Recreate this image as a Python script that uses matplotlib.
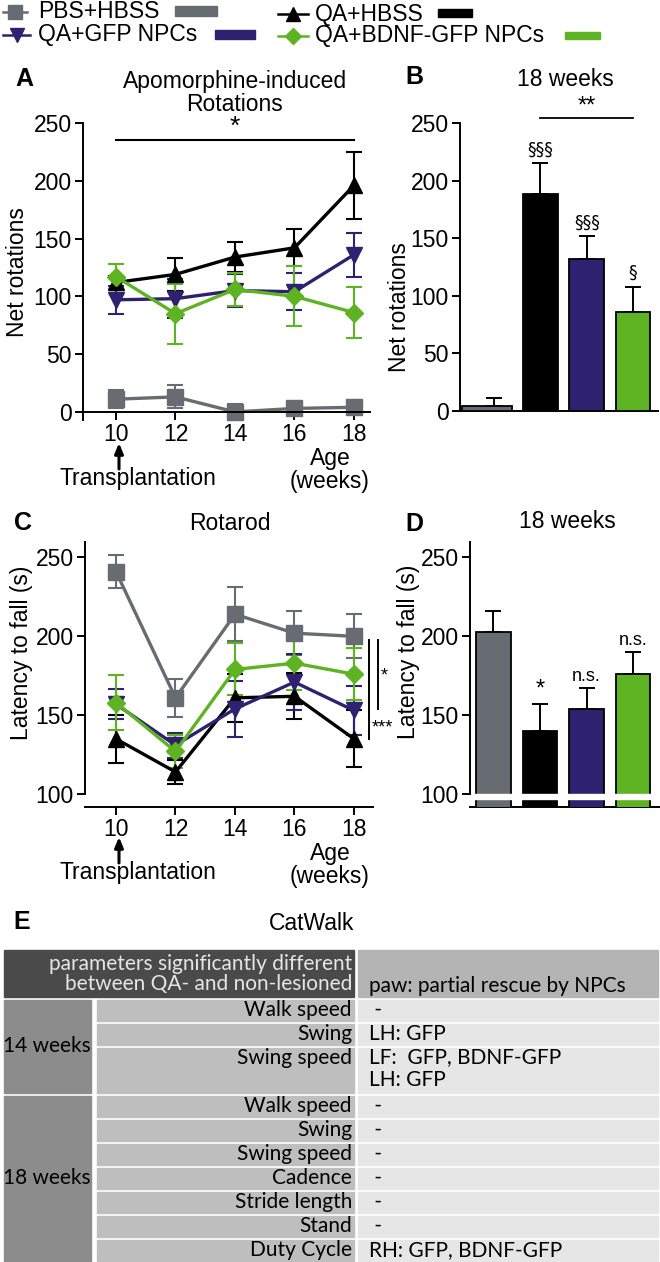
import matplotlib.pyplot as plt
from matplotlib.patches import Rectangle

plt.rcParams['font.family'] = ['Liberation Sans', 'DejaVu Sans']
TABLE_FONT = ['Lato', 'DejaVu Sans']

# ---- data ----
weeks = [10, 12, 14, 16, 18]
groups = ['PBS+HBSS', 'QA+HBSS', 'QA+GFP NPCs', 'QA+BDNF-GFP NPCs']
colors = ['#676c72', '#000000', '#2d2170', '#5db322']
markers = ['s', '^', 'v', 'D']

# A: apomorphine-induced rotations
rot_pbs = [11, 13, 0, 3, 4]
rot_pbs_err = [8, 10, 7, 5, 6]
rot_qa = [112, 119, 134, 142, 196]
rot_qa_err = [6, 14, 13, 16, 29]
rot_gfp = [97, 98, 105, 104, 136]
rot_gfp_err = [12, 17, 14, 16, 19]
rot_bdnf = [117, 85, 106, 100, 86]
rot_bdnf_err = [11, 26, 14, 26, 22]

# B: rotations at 18 weeks
rot18 = [4, 188, 132, 86]
rot18_err = [7, 27, 20, 22]
rot18_marks = ['', '§§§', '§§§', '§']

# C: rotarod
rr_pbs = [241, 161, 214, 202, 200]
rr_pbs_err = [10.5, 12, 17, 14, 14]
rr_qa = [135, 114, 161, 162, 135]
rr_qa_err = [15, 7.5, 15, 14.5, 18]
rr_gfp = [157, 131, 154, 171, 153]
rr_gfp_err = [9.5, 8, 18, 17.5, 15.5]
rr_bdnf = [158, 127, 179, 183, 176]
rr_bdnf_err = [17.5, 10.5, 16.5, 17, 16.5]

# D: rotarod at 18 weeks
lat18 = [203, 140, 154, 176]
lat18_err = [13, 17, 13, 14]
lat18_marks = ['', '*', 'n.s.', 'n.s.']

# E: CatWalk table
tab_weeks = ['14 weeks', '18 weeks']
tab_params = [['Walk speed', 'Swing', 'Swing speed'],
              ['Walk speed', 'Swing', 'Swing speed', 'Cadence',
               'Stride length', 'Stand', 'Duty Cycle']]
tab_rescue = [[' -', 'LH: GFP', 'LF:  GFP, BDNF-GFP\nLH: GFP'],
              [' -', ' -', ' -', ' -', ' -', ' -', 'RH: GFP, BDNF-GFP']]

W, H = 660, 1262
fig = plt.figure(figsize=(W / 100, H / 100), dpi=100)
FS = 16.5


def add_ax(l, t, r, b):
    ax = fig.add_axes([l / W, 1 - b / H, (r - l) / W, (b - t) / H])
    ax.patch.set_visible(False)
    ax.spines['top'].set_visible(False)
    ax.spines['right'].set_visible(False)
    for s in ('left', 'bottom'):
        ax.spines[s].set_linewidth(1.4)
    ax.tick_params(direction='out', length=6, width=1.4, labelsize=FS, pad=2)
    return ax


def line_panel(ax, series):
    for (vals, errs), c, m in zip(series, colors, markers):
        ax.errorbar(weeks, vals, yerr=errs, color=c, marker=m, ms=11 if m != 'D' else 9,
                    lw=2.4, elinewidth=1.5, capsize=5.5, capthick=1.5, clip_on=False)
    ax.set_xticks(weeks)


# ---- A ----
axA = add_ax(83, 123, 370, 420)
line_panel(axA, [(rot_pbs, rot_pbs_err), (rot_qa, rot_qa_err),
                 (rot_gfp, rot_gfp_err), (rot_bdnf, rot_bdnf_err)])
axA.set_xlim(8.89, 18.54)
axA.set_ylim(-7, 250)
axA.set_yticks(range(0, 251, 50))
axA.spines['bottom'].set_position(('data', 0))
axA.plot([10, 18], [235, 235], color='black', lw=1.5, clip_on=False)
axA.text(14, 236, '*', ha='center', va='bottom', fontsize=19)

# ---- B ----
pos = range(4)
axB = add_ax(460, 123, 658, 411)
bw = [-1.07, -0.75, -0.75, -0.75]
axB.errorbar(pos, rot18, yerr=[[0] * 4, rot18_err], fmt='none', ecolor='black',
             elinewidth=1.4, capsize=6, capthick=1.4, zorder=2)
axB.bar([p + 0.375 for p in pos], rot18, width=bw, align='edge', color=colors,
        edgecolor='black', lw=1.3, zorder=3)
for p, v, e, t in zip(pos, rot18, rot18_err, rot18_marks):
    axB.text(p, v + e + 4, t, ha='center', va='bottom', fontsize=12.5,
             family=['DejaVu Sans Condensed', 'DejaVu Sans'])
axB.set_xlim(-0.74, 3.54)
axB.set_ylim(0, 250)
axB.set_yticks(range(0, 251, 50))
axB.set_xticks([])
axB.plot([1, 3], [254, 254], color='black', lw=1.3, clip_on=False)
axB.text(2, 254.5, '**', ha='center', va='bottom', fontsize=17)

# ---- C ----
axC = add_ax(85, 541.7, 373, 807)
line_panel(axC, [(rr_pbs, rr_pbs_err), (rr_qa, rr_qa_err),
                 (rr_gfp, rr_gfp_err), (rr_bdnf, rr_bdnf_err)])
axC.set_xlim(8.958, 18.64)
axC.set_ylim(91.8, 260)
axC.set_yticks([100, 150, 200, 250])
axC.spines['left'].set_bounds(100, 260)
axC.plot([18.49, 18.49], [197.6, 134.6], color='black', lw=1.4, clip_on=False)
axC.plot([18.81, 18.81], [197.6, 153.7], color='black', lw=1.4, clip_on=False)
axC.text(19.03, 175, '*', ha='center', va='center', fontsize=13)
axC.text(18.97, 142, '***', ha='center', va='center', fontsize=13)

# ---- D ----
axD = add_ax(470, 541.7, 660, 807)
axD.errorbar(pos, lat18, yerr=[[0] * 4, lat18_err], fmt='none', ecolor='black',
             elinewidth=1.4, capsize=6, capthick=1.4, zorder=2)
axD.bar(pos, [v - 85 for v in lat18], bottom=85, width=0.75, color=colors,
        edgecolor='black', lw=1.3, zorder=3)
axD.fill_between([-0.42, 3.42], 96.8, 100, color='white', zorder=4)
for p, v, e, t in zip(pos, lat18, lat18_err, lat18_marks):
    axD.text(p, v + e + 2, t, ha='center', va='bottom',
             fontsize=17 if t == '*' else 13)
axD.set_xlim(-0.505, 3.58)
axD.set_ylim(91.8, 260)
axD.set_yticks([100, 150, 200, 250])
axD.set_xticks([])
axD.spines['left'].set_bounds(100, 260)

# ---- overlay in pixel coordinates ----
ov = fig.add_axes([0, 0, 1, 1])
ov.set_xlim(0, W)
ov.set_ylim(H, 0)
ov.axis('off')


def txt(x, y, s, **kw):
    kw.setdefault('fontsize', FS)
    kw.setdefault('ha', 'center')
    kw.setdefault('va', 'center')
    ov.text(x, y, s, **kw)


# legend
leg_rows = [(12, 3, 27, 15, 38, 175, 217, 5.5, 16),
            (14, 278, 308, 293, 315, 438, 472, 9, 17),
            (34.5, 3, 30, 17, 38, 215, 255, 29.5, 39),
            (35.5, 278, 308, 293, 315, 565, 600, 31.5, 39)]
for (y, x0, x1, xm, xt, px0, px1, py0, py1), g, c, m in zip(
        leg_rows, groups, colors, markers):
    ov.plot([x0, x1], [y, y], color=c, lw=1.8)
    ov.plot([xm], [y], marker=m, color=c, ms=10 if m != 'D' else 8)
    txt(xt, y, g, ha='left')
    ov.add_patch(Rectangle((px0, py0), px1 - px0, py1 - py0, color=c))

# panel letters and titles
for s, x, y in [('A', 24, 79), ('B', 414, 77), ('C', 23, 523), ('D', 414, 524),
                ('E', 22, 922)]:
    txt(x, y, s, fontsize=18, fontweight='bold')
txt(235, 93, 'Apomorphine-induced\nRotations', linespacing=1.05)
txt(565, 80, '18 weeks')
txt(230, 523, 'Rotarod')
txt(567, 522, '18 weeks')
txt(312, 923, 'CatWalk')

# y labels
txt(18, 272, 'Net rotations', rotation=90)
txt(400, 307, 'Net rotations', rotation=90)
txt(22, 653, 'Latency to fall (s)', rotation=90)
txt(408, 652, 'Latency to fall (s)', rotation=90)

# transplantation arrows and age labels
for ytip, ybase, ytxt, yage in [(443, 469, 478, 470), (837, 863, 873, 865)]:
    ov.annotate('', xy=(119, ytip), xytext=(119, ybase),
                arrowprops=dict(arrowstyle='-|>,head_length=0.6,head_width=0.25',
                                color='black', lw=2.2, shrinkA=0, shrinkB=0))
    txt(138, ytxt, 'Transplantation')
    txt(330, yage, 'Age\n(weeks)', linespacing=1.0)

# table
TX = dict(family=TABLE_FONT, fontsize=15)
ov.add_patch(Rectangle((4, 950), 350, 47, color='#4a4a4a'))
ov.add_patch(Rectangle((358, 950), 300, 47, color='#b4b4b4'))
txt(352, 974, 'parameters significantly different\nbetween QA- and non-lesioned',
    ha='right', color='#e6e6e6', linespacing=1.05, **TX)
txt(369, 986, 'paw: partial rescue by NPCs', ha='left', **TX)
row = 0
for wk, params, rescue in zip(tab_weeks, tab_params, tab_rescue):
    start = row
    for p, r in zip(params, rescue):
        n = r.count('\n') + 1
        y0 = 1000 + 24 * row
        hgt = 24 * n - 3
        ov.add_patch(Rectangle((97, y0), 257, hgt, color='#bebebe'))
        ov.add_patch(Rectangle((358, y0), 300, hgt, color='#e6e6e6'))
        txt(352, y0 + 10.5, p, ha='right', **TX)
        if n == 1:
            txt(369, y0 + 10.5, r, ha='left', **TX)
        else:
            txt(369, y0 - 1, r, ha='left', va='top', linespacing=1.2, **TX)
        row += n
    y0 = 1000 + 24 * start
    hgt = 24 * (row - start) - 3
    ov.add_patch(Rectangle((4, y0), 87, hgt, color='#8c8c8c'))
    txt(47, y0 + hgt / 2, wk, **TX)

fig.savefig('out.png', dpi=100)
